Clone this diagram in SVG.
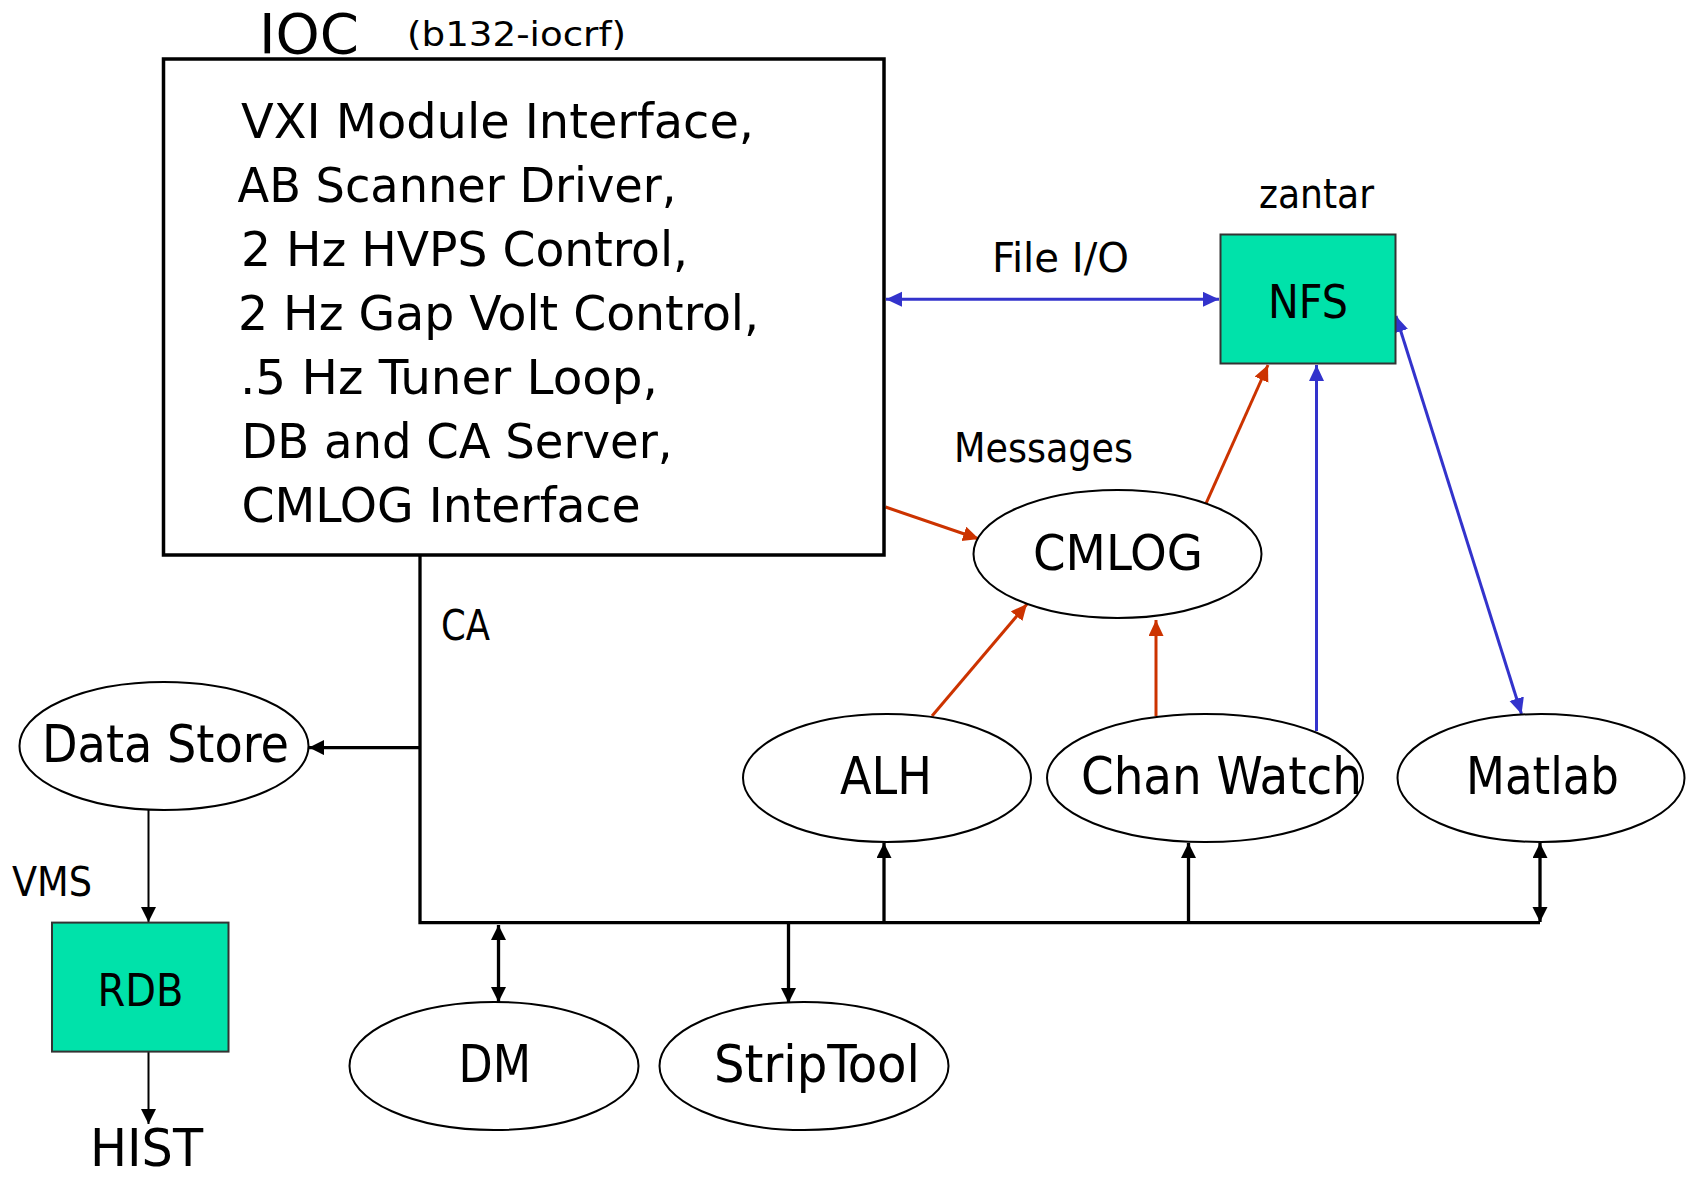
<svg xmlns="http://www.w3.org/2000/svg" width="1686" height="1179" viewBox="0 0 1686 1179">
  <style>
    text { font-family: "DejaVu Sans", "Liberation Sans", sans-serif; font-stretch: condensed; fill: #000; }
    .node { fill: #fff; stroke: #000; stroke-width: 2; }
    .store { fill: #00E2AA; stroke: #333; stroke-width: 2; }
    .box { fill: #fff; stroke: #000; stroke-width: 3.5; }
    .bus { fill: none; stroke: #000; stroke-width: 3.3; }
    .thin { fill: none; stroke: #000; stroke-width: 2; }
    .red { fill: none; stroke: #CC3300; stroke-width: 3; }
    .blue { fill: none; stroke: #3333CC; stroke-width: 3; }
  </style>
  <defs>
    <marker id="ah-black" markerUnits="userSpaceOnUse" markerWidth="16" markerHeight="16" refX="15" refY="7.5" orient="auto-start-reverse">
      <path d="M0,0 L15,7.5 L0,15 Z" fill="#000"/>
    </marker>
    <marker id="ah-red" markerUnits="userSpaceOnUse" markerWidth="17" markerHeight="16" refX="16" refY="7.5" orient="auto-start-reverse">
      <path d="M0,0 L16,7.5 L0,15 Z" fill="#CC3300"/>
    </marker>
    <marker id="ah-blue" markerUnits="userSpaceOnUse" markerWidth="17" markerHeight="16" refX="16" refY="7.5" orient="auto-start-reverse">
      <path d="M0,0 L16,7.5 L0,15 Z" fill="#3333CC"/>
    </marker>
  </defs>

  <!-- free labels -->
  <g id="labels">
    <text x="1259" y="208" font-size="40" textLength="115" lengthAdjust="spacingAndGlyphs">zantar</text>
    <text x="992" y="272" font-size="41" textLength="137" lengthAdjust="spacingAndGlyphs">File I/O</text>
    <text x="954" y="462" font-size="40" textLength="179" lengthAdjust="spacingAndGlyphs">Messages</text>
    <text x="441" y="640" font-size="42" textLength="49" lengthAdjust="spacingAndGlyphs">CA</text>
    <text x="12" y="896" font-size="40" textLength="80" lengthAdjust="spacingAndGlyphs">VMS</text>
    <text x="90" y="1166" font-size="52" textLength="113" lengthAdjust="spacingAndGlyphs">HIST</text>
  </g>

  <!-- connectors -->
  <g id="connectors">
    <!-- CA bus -->
    <path class="bus" d="M420,555 V922.7 H1540"/>
    <line class="bus" x1="420" y1="747.6" x2="309" y2="747.6" marker-end="url(#ah-black)"/>
    <line class="bus" x1="498.5" y1="925" x2="498.5" y2="1002" marker-start="url(#ah-black)" marker-end="url(#ah-black)"/>
    <line class="bus" x1="788.5" y1="922.7" x2="788.5" y2="1003" marker-end="url(#ah-black)"/>
    <line class="bus" x1="884" y1="922.7" x2="884" y2="843" marker-end="url(#ah-black)"/>
    <line class="bus" x1="1188.5" y1="922.7" x2="1188.5" y2="843" marker-end="url(#ah-black)"/>
    <line class="bus" x1="1540" y1="922" x2="1540" y2="843" marker-start="url(#ah-black)" marker-end="url(#ah-black)"/>
    <!-- archive path -->
    <line class="thin" x1="148.5" y1="810" x2="148.5" y2="922" marker-end="url(#ah-black)"/>
    <line class="thin" x1="148.5" y1="1052" x2="148.5" y2="1124" marker-end="url(#ah-black)"/>
    <!-- file I/O -->
    <line class="blue" x1="886" y1="299.3" x2="1219" y2="299.3" marker-start="url(#ah-blue)" marker-end="url(#ah-blue)"/>
    <line class="blue" x1="1316.5" y1="731" x2="1316.5" y2="365" marker-end="url(#ah-blue)"/>
    <line class="blue" x1="1396" y1="316" x2="1521.5" y2="714" marker-start="url(#ah-blue)" marker-end="url(#ah-blue)"/>
    <!-- messages -->
    <line class="red" x1="885.5" y1="507" x2="979" y2="539" marker-end="url(#ah-red)"/>
    <line class="red" x1="1204.6" y1="506.7" x2="1268" y2="365" marker-end="url(#ah-red)"/>
    <line class="red" x1="932" y1="716" x2="1027" y2="604" marker-end="url(#ah-red)"/>
    <line class="red" x1="1156" y1="716" x2="1156" y2="620" marker-end="url(#ah-red)"/>
  </g>

  <g id="ioc">
    <text x="259" y="53" font-size="56" textLength="100" lengthAdjust="spacingAndGlyphs">IOC</text>
    <text x="407" y="46" font-size="33" textLength="219" lengthAdjust="spacingAndGlyphs">(b132-iocrf)</text>
    <rect class="box" x="163.5" y="59" width="720.5" height="496"/>
    <g font-size="48">
      <text x="241" y="138" textLength="513" lengthAdjust="spacingAndGlyphs">VXI Module Interface,</text>
      <text x="237.5" y="202" textLength="439" lengthAdjust="spacingAndGlyphs">AB Scanner Driver,</text>
      <text x="241" y="265.8" textLength="447" lengthAdjust="spacingAndGlyphs">2 Hz HVPS Control,</text>
      <text x="238" y="329.6" textLength="521" lengthAdjust="spacingAndGlyphs">2 Hz Gap Volt Control,</text>
      <text x="240" y="393.6" textLength="418" lengthAdjust="spacingAndGlyphs">.5 Hz Tuner Loop,</text>
      <text x="241.5" y="457.5" textLength="431" lengthAdjust="spacingAndGlyphs">DB and CA Server,</text>
      <text x="241.5" y="521.5" textLength="399" lengthAdjust="spacingAndGlyphs">CMLOG Interface</text>
    </g>
  </g>

  <g id="nfs">
    <rect class="store" x="1220.5" y="234.5" width="175" height="129"/>
    <text x="1268" y="318" font-size="46" textLength="80" lengthAdjust="spacingAndGlyphs">NFS</text>
  </g>

  <g id="cmlog">
    <ellipse class="node" cx="1117.5" cy="554" rx="144" ry="64"/>
    <text x="1033" y="569.5" font-size="50" textLength="170" lengthAdjust="spacingAndGlyphs">CMLOG</text>
  </g>

  <g id="data-store">
    <ellipse class="node" cx="164" cy="746" rx="144.5" ry="64"/>
    <text x="42" y="762" font-size="52" textLength="247" lengthAdjust="spacingAndGlyphs">Data Store</text>
  </g>

  <g id="rdb">
    <rect class="store" x="52" y="922.6" width="176.5" height="129"/>
    <text x="97.5" y="1005.5" font-size="44" textLength="86" lengthAdjust="spacingAndGlyphs">RDB</text>
  </g>

  <g id="alh">
    <ellipse class="node" cx="887" cy="778" rx="144" ry="64"/>
    <text x="840" y="793.5" font-size="52" textLength="92" lengthAdjust="spacingAndGlyphs">ALH</text>
  </g>

  <g id="chan-watch">
    <ellipse class="node" cx="1205" cy="778" rx="158" ry="64"/>
    <text x="1081" y="793.5" font-size="52" textLength="281" lengthAdjust="spacingAndGlyphs">Chan Watch</text>
  </g>

  <g id="matlab">
    <ellipse class="node" cx="1541" cy="778" rx="143.5" ry="64"/>
    <text x="1466" y="793.5" font-size="52" textLength="153" lengthAdjust="spacingAndGlyphs">Matlab</text>
  </g>

  <g id="dm">
    <ellipse class="node" cx="494" cy="1066" rx="144.5" ry="64"/>
    <text x="458.5" y="1082" font-size="52" textLength="72.5" lengthAdjust="spacingAndGlyphs">DM</text>
  </g>

  <g id="striptool">
    <ellipse class="node" cx="804" cy="1066" rx="144.5" ry="64"/>
    <text x="714" y="1082" font-size="52" textLength="206" lengthAdjust="spacingAndGlyphs">StripTool</text>
  </g>
</svg>
